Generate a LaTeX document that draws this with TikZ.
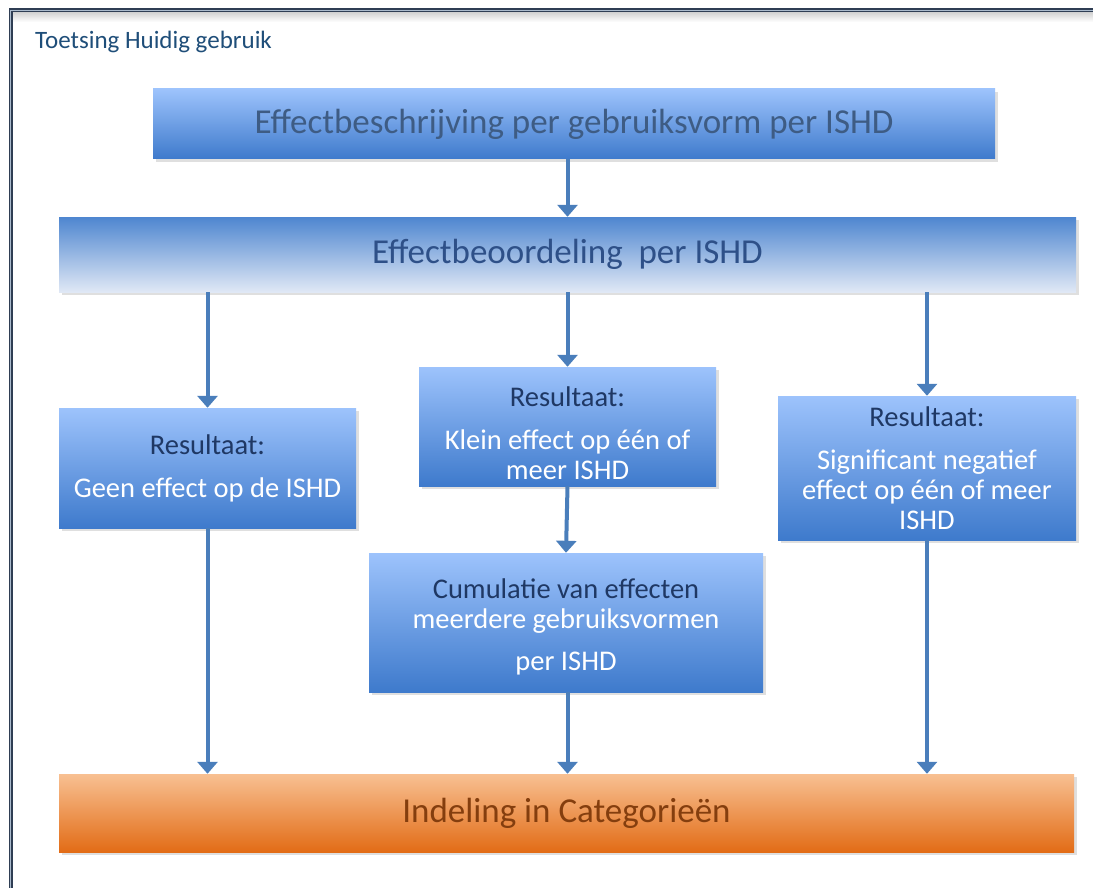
\documentclass[tikz,border=0pt]{standalone}
\usepackage{fontspec}
\setmainfont{Carlito}
\usetikzlibrary{arrows.meta,shadows}
\definecolor{arrowblue}{RGB}{74,126,187}
\definecolor{navy}{RGB}{31,56,100}
\definecolor{topText}{RGB}{62,92,132}
\definecolor{secText}{RGB}{46,80,136}
\definecolor{orText}{RGB}{132,62,14}
\definecolor{titleblue}{RGB}{31,78,121}
\definecolor{frameDark}{RGB}{47,62,84}
\definecolor{frameLight}{RGB}{170,186,204}
\begin{document}
\begin{tikzpicture}[x=1pt,y=-1pt,
  boxbase/.style={rectangle, inner sep=0pt, align=center,
    drop shadow={shadow xshift=2.5pt, shadow yshift=-3pt, opacity=0.25}},
  bluebox/.style={boxbase, top color={rgb,255:red,157;green,195;blue,252},
    bottom color={rgb,255:red,62;green,122;blue,204}, text=white,
    font=\fontsize{28.5}{30}\selectfont},
  lightbox/.style={boxbase, top color={rgb,255:red,78;green,134;blue,208},
    middle color={rgb,255:red,196;green,212;blue,238},
    bottom color={rgb,255:red,224;green,232;blue,245}},
  orangebox/.style={boxbase, top color={rgb,255:red,248;green,192;blue,146},
    middle color={rgb,255:red,238;green,152;blue,96},
    bottom color={rgb,255:red,226;green,108;blue,22}},
  bigtext/.style={font=\fontsize{35}{40}\selectfont},
  flow/.style={draw=arrowblue, line width=4pt,
    -{Triangle[width=20pt,length=12pt]}},
]
\useasboundingbox (0,0) rectangle (1093,888);
\fill[white] (0,0) rectangle (1093,888);
% window frame
\shade[top color=black!18, bottom color=white] (12,12) rectangle (1093,22);
\draw[frameDark, line width=4pt] (10.5,888) -- (10.5,10.5) -- (1093,10.5);
\draw[frameLight, line width=1.6pt] (10.5,888) -- (10.5,10.5) -- (1093,10.5);
\node[anchor=west, text=titleblue, font=\fontsize{25}{28}\selectfont, inner sep=0pt] (title) at (35,42) {Toetsing Huidig gebruik};

% boxes
\node[bluebox, bigtext, text=topText, minimum width=842pt, minimum height=70pt] (top) at (574,124)
  {Effectbeschrijving per gebruiksvorm per ISHD};
\node[lightbox, bigtext, text=secText, minimum width=1017pt, minimum height=75pt] (sec) at (567.5,254.5)
  {Effectbeoordeling\ \ per ISHD};
\node[bluebox, minimum width=297pt, minimum height=120pt] (left) at (207.5,468)
  {{\color{navy}Resultaat:}\\[13pt] Geen effect op de ISHD};
\node[bluebox, minimum width=297pt, minimum height=119pt, text height=106pt] (mid) at (567.5,426.5)
  {{\color{navy}Resultaat:}\\[13pt] Klein effect op één of\\ meer ISHD};
\node[bluebox, minimum width=298pt, minimum height=144pt] (right) at (927,468)
  {{\color{navy}Resultaat:}\\[13pt] Significant negatief\\ effect op één of meer\\ ISHD};
\node[bluebox, minimum width=394pt, minimum height=139pt, text height=100pt] (cum) at (566,622.5)
  {{\color{navy}Cumulatie van effecten}\\ meerdere gebruiksvormen\\[12pt] per ISHD};
\node[orangebox, bigtext, text=orText, minimum width=1015pt, minimum height=78pt] (cat) at (566.5,813)
  {Indeling in Categorieën};

% connectors
\draw[flow] (mid.north |- top.south) -- (mid.north |- sec.north);
\draw[flow] (left.north |- sec.south) -- (left.north);
\draw[flow] (mid.north |- sec.south) -- (mid.north);
\draw[flow] (right.north |- sec.south) -- (right.north);
\draw[flow] (mid.south) -- (cum.north);
\draw[flow] (left.south) -- (left.south |- cat.north);
\draw[flow] (mid.south |- cum.south) -- (mid.south |- cat.north);
\draw[flow] (right.south) -- (right.south |- cat.north);
\end{tikzpicture}
\end{document}
